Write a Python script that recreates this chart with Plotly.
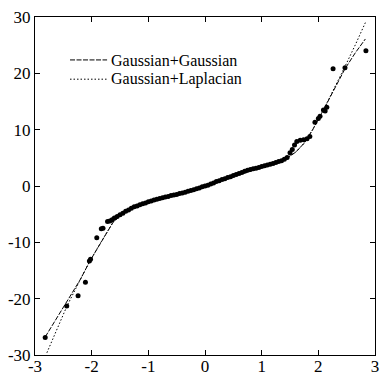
import plotly.graph_objects as go

# Empirical quantiles: theoretical normal quantile (x) vs. observed value (y)
band_x = [-1.60, -1.55, -1.50, -1.45, -1.40, -1.35, -1.30, -1.25, -1.20, -1.15,
          -1.10, -1.05, -1.00, -0.95, -0.90, -0.85, -0.80, -0.75, -0.70, -0.65,
          -0.60, -0.55, -0.50, -0.45, -0.40, -0.35, -0.30, -0.25, -0.20, -0.15,
          -0.10, -0.05, 0.00, 0.05, 0.10, 0.15, 0.20, 0.25, 0.30, 0.35,
          0.40, 0.45, 0.50, 0.55, 0.60, 0.65, 0.70, 0.75, 0.80, 0.85,
          0.90, 0.95, 1.00, 1.05, 1.10, 1.15, 1.20, 1.25, 1.30, 1.35,
          1.40, 1.45]
band_y = [-5.7, -5.4, -5.1, -4.85, -4.5, -4.25, -3.95, -3.7, -3.55, -3.35,
          -3.15, -3.0, -2.8, -2.65, -2.5, -2.35, -2.2, -2.1, -1.95, -1.85,
          -1.7, -1.6, -1.5, -1.35, -1.25, -1.1, -0.95, -0.8, -0.65, -0.5,
          -0.35, -0.15, 0.0, 0.15, 0.35, 0.55, 0.8, 0.95, 1.15, 1.3,
          1.5, 1.65, 1.85, 2.05, 2.2, 2.4, 2.6, 2.8, 2.95, 3.05,
          3.15, 3.3, 3.45, 3.6, 3.75, 3.85, 4.0, 4.15, 4.35, 4.5,
          4.75, 5.05]

low_tail_x = [-2.82, -2.44, -2.24, -2.11, -2.04, -2.02, -1.91, -1.83, -1.80,
              -1.72, -1.68, -1.64]
low_tail_y = [-26.9, -21.3, -19.5, -17.1, -13.3, -13.0, -9.2, -7.6, -7.5,
              -6.3, -6.2, -6.0]

high_tail_x = [1.50, 1.54, 1.58, 1.62, 1.68, 1.74, 1.80, 1.85, 1.94, 2.00,
               2.03, 2.09, 2.12, 2.15, 2.26, 2.47, 2.84]
high_tail_y = [5.9, 6.5, 7.3, 7.9, 8.1, 8.2, 8.4, 8.8, 11.3, 12.0,
               12.4, 13.5, 13.3, 14.0, 20.8, 21.0, 24.0]

# Fitted mixture quantile curves
gg_x = [-2.82, -2.60, -2.44, -2.20, -2.03, -1.85, -1.72, -1.62, -1.50, -1.30,
        -1.00, -0.60, -0.20, 0.20, 0.60, 1.00, 1.30, 1.45, 1.60, 1.75,
        1.90, 2.09, 2.30, 2.47, 2.65, 2.83]
gg_y = [-26.8, -23.2, -20.6, -16.6, -13.3, -10.2, -8.0, -6.4, -5.3, -4.0,
        -2.8, -1.7, -0.6, 0.7, 2.0, 3.4, 4.3, 5.0, 6.0, 7.6,
        10.0, 13.5, 17.5, 20.8, 23.6, 26.1]

gl_x = [-2.79, -2.62, -2.44, -2.20, -2.03, -1.85, -1.72, -1.62, -1.50, -1.30,
        -1.00, -0.60, -0.20, 0.20, 0.60, 1.00, 1.30, 1.45, 1.60, 1.75,
        1.90, 2.09, 2.30, 2.47, 2.65, 2.83]
gl_y = [-29.6, -25.6, -21.4, -16.6, -13.3, -10.2, -8.0, -6.4, -5.3, -4.0,
        -2.8, -1.7, -0.6, 0.7, 2.0, 3.4, 4.3, 5.0, 6.0, 7.6,
        10.0, 13.5, 17.6, 21.2, 25.0, 29.0]

legend_labels = ["Gaussian+Gaussian", "Gaussian+Laplacian"]
x_ticks = [-3, -2, -1, 0, 1, 2, 3]
x_tick_text = ["-3", "-2", "-1", "0", "1", "2", "3"]
y_ticks = [-30, -20, -10, 0, 10, 20, 30]
y_tick_text = ["-30", "-20", "-10", "0", "10", "20", "30"]

SERIF = "Liberation Serif, Times New Roman, serif"

fig = go.Figure()

fig.add_trace(go.Scatter(x=gg_x, y=gg_y, mode="lines",
                         line=dict(color="black", width=1, dash="5px,1.5px"),
                         name=legend_labels[0], hoverinfo="skip"))
fig.add_trace(go.Scatter(x=gl_x, y=gl_y, mode="lines",
                         line=dict(color="black", width=1, dash="1.5px,2px"),
                         name=legend_labels[1], hoverinfo="skip"))

pts_x = low_tail_x + band_x + high_tail_x
pts_y = low_tail_y + band_y + high_tail_y
fig.add_trace(go.Scatter(x=pts_x, y=pts_y, mode="markers",
                         marker=dict(color="black", size=5, line=dict(width=0)),
                         showlegend=False))

# Hand-drawn legend in the upper-left corner
leg_x0, leg_x1, txt_x = 0.103, 0.212, 0.221
rows = [(0.873, 0.870, "5px,1.5px"), (0.816, 0.816, "1.5px,2px")]
for (ly, ty, dash), label in zip(rows, legend_labels):
    fig.add_shape(type="line", xref="paper", yref="paper",
                  x0=leg_x0, x1=leg_x1, y0=ly, y1=ly,
                  line=dict(color="black", width=1, dash=dash))
    fig.add_annotation(xref="paper", yref="paper", x=txt_x, y=ty,
                       xanchor="left", yanchor="middle", showarrow=False,
                       borderpad=0,
                       text=label, font=dict(family=SERIF, size=16, color="black"))

axis_common = dict(showgrid=False, zeroline=False, showline=True,
                   linecolor="black", linewidth=1, mirror="ticks",
                   ticks="inside", ticklen=5, tickcolor="black", tickwidth=1,
                   automargin=False,
                   tickfont=dict(family=SERIF, size=17, color="black"))

fig.update_layout(
    width=380, height=375,
    margin=dict(l=35, r=5, t=17, b=20),
    paper_bgcolor="white", plot_bgcolor="white",
    showlegend=False,
    xaxis=dict(range=[-3, 3], tickvals=x_ticks, ticktext=x_tick_text,
               ticklabelstandoff=-4, **axis_common),
    yaxis=dict(range=[-30, 30], tickvals=y_ticks, ticktext=y_tick_text, **axis_common),
)

fig.write_html("out.html")
